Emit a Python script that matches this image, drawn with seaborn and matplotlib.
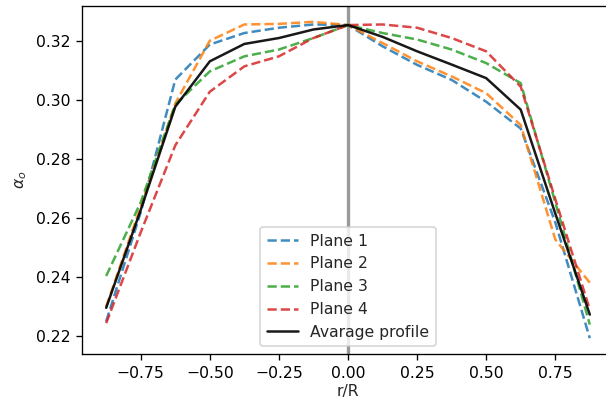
import numpy as np
import pandas as pd
import matplotlib
matplotlib.use("Agg")
import matplotlib.pyplot as plt
import seaborn as sns

r_R = [-0.875, -0.75, -0.625, -0.5, -0.375, -0.25, -0.125, 0.0,
       0.125, 0.25, 0.375, 0.5, 0.625, 0.75, 0.875]

plane1 = [0.225, 0.262, 0.307, 0.3189, 0.3228, 0.3246, 0.3257, 0.3255,
          0.3183, 0.3120, 0.3069, 0.2995, 0.2904, 0.2586, 0.2193]
plane2 = [0.230, 0.264, 0.2989, 0.3202, 0.3257, 0.3259, 0.3266, 0.3255,
          0.3194, 0.3132, 0.3081, 0.3024, 0.2916, 0.2528, 0.2381]
plane3 = [0.2404, 0.2654, 0.2985, 0.3098, 0.3149, 0.3172, 0.3211, 0.3255,
          0.3228, 0.3206, 0.3172, 0.3126, 0.3058, 0.2654, 0.2239]
plane4 = [0.2244, 0.2552, 0.2847, 0.3029, 0.3115, 0.3149, 0.3211, 0.3255,
          0.3257, 0.3246, 0.3211, 0.3166, 0.3046, 0.2665, 0.2290]
average = [0.2296, 0.2628, 0.2978, 0.3132, 0.3191, 0.3211, 0.3240, 0.3255,
           0.3215, 0.3166, 0.3121, 0.3075, 0.2968, 0.2616, 0.2273]

labels = ["Plane 1", "Plane 2", "Plane 3", "Plane 4"]
colors = sns.color_palette("tab10", 4)

sns.set_style("white")
plt.rcParams['font.family'] = ['DejaVu Sans']
plt.rcParams['font.size'] = 9.4

fig = plt.figure(figsize=(606 / 120, 405 / 120), dpi=120)
ax = fig.add_axes([82 / 606, 1 - 354 / 405, 532 / 606, 348 / 405])

for vals, lab, col in zip([plane1, plane2, plane3, plane4], labels, colors):
    df = pd.DataFrame({"x": r_R, "y": vals})
    sns.lineplot(data=df, x="x", y="y", ax=ax, color=col, linestyle="--",
                 alpha=0.85, label=lab, lw=1.5)

df = pd.DataFrame({"x": r_R, "y": average})
sns.lineplot(data=df, x="x", y="y", ax=ax, color="black", lw=1.5,
             label="Avarage profile", alpha=0.9)

ax.axvline(0, color="grey", alpha=0.8, lw=2, zorder=0)

ax.set_xlabel("r/R", fontsize=9.4, labelpad=2)
ax.set_ylabel(r"$\alpha_o$", fontsize=9.4)
ax.set_xticks([-0.75, -0.5, -0.25, 0, 0.25, 0.5, 0.75])
ax.set_yticks([0.22, 0.24, 0.26, 0.28, 0.30, 0.32])
ax.tick_params(axis="both", which="major", length=3.5, width=0.8,
               direction="out", left=True, bottom=True, colors="black",
               labelsize=9.4)
for s in ax.spines.values():
    s.set_color("black")
    s.set_linewidth(0.8)
ax.legend(loc="lower center", fontsize=9.4)

fig.savefig("out.png", dpi=120)
